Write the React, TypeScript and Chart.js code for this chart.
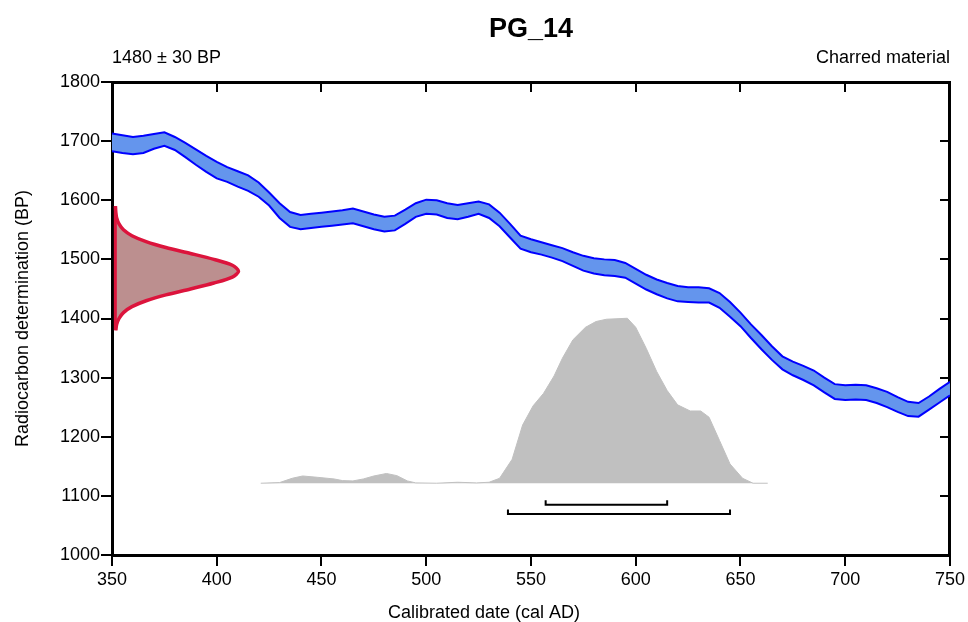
import React, { useEffect, useRef } from 'react';
import { Chart, registerables } from 'chart.js';

Chart.register(...registerables);

const FONT = '"Liberation Sans", Arial, Helvetica, sans-serif';

// ---- texts ----
const chartTitle = 'PG_14';
const labelLeft = '1480 ± 30 BP';
const labelRight = 'Charred material';
const xTitle = 'Calibrated date (cal AD)';
const yTitle = 'Radiocarbon determination (BP)';

// ---- tick labels ----
const xTicks = [350, 400, 450, 500, 550, 600, 650, 700, 750];
const yTicks = [1000, 1100, 1200, 1300, 1400, 1500, 1600, 1700, 1800];

// ---- calibration curve (upper / lower 1σ envelope, BP) ----
const curveYears = [
  350, 355, 360, 365, 370, 375, 380, 385, 390, 395,
  400, 405, 410, 415, 420, 425, 430, 435, 440, 445,
  450, 455, 460, 465, 470, 475, 480, 485, 490, 495,
  500, 505, 510, 515, 520, 525, 530, 535, 540, 545,
  550, 555, 560, 565, 570, 575, 580, 585, 590, 595,
  600, 605, 610, 615, 620, 625, 630, 635, 640, 645,
  650, 655, 660, 665, 670, 675, 680, 685, 690, 695,
  700, 705, 710, 715, 720, 725, 730, 735, 740, 745, 750,
];
const curveUpper = [
  1713, 1710, 1707, 1709, 1712, 1715, 1707, 1697, 1686, 1675,
  1665, 1656, 1649, 1642, 1630, 1613, 1595, 1580, 1575, 1577,
  1579, 1581, 1583, 1586, 1581, 1576, 1572, 1574, 1584, 1595,
  1601, 1600, 1595, 1592, 1595, 1598, 1593, 1579, 1560, 1540,
  1534, 1529, 1524, 1519, 1512, 1506, 1502, 1500, 1499, 1494,
  1484, 1474, 1466, 1460, 1455, 1453, 1453, 1451, 1443, 1428,
  1410, 1390, 1372, 1353, 1336, 1327, 1320, 1312, 1300, 1289,
  1287, 1288, 1287, 1282, 1276, 1267, 1259, 1257, 1268, 1281, 1293,
];
const curveLower = [
  1683, 1680, 1678, 1680, 1687, 1692, 1685, 1673, 1660, 1648,
  1637, 1631, 1623, 1616, 1606, 1591, 1570, 1555, 1551, 1553,
  1555, 1557, 1559, 1561, 1556, 1551, 1547, 1549, 1560, 1572,
  1577, 1576, 1570, 1568, 1572, 1577, 1570, 1556, 1537, 1518,
  1512, 1508, 1503, 1497, 1489, 1481, 1476, 1473, 1472, 1469,
  1459, 1449, 1441, 1434, 1429, 1428, 1427, 1427, 1418, 1403,
  1387, 1367, 1348, 1330, 1314, 1304, 1296, 1287, 1275, 1264,
  1262, 1263, 1262, 1257, 1250, 1242, 1235, 1234, 1246, 1258, 1270,
];

// ---- radiocarbon measurement distribution (relative density) ----
const measBP = [
  1380, 1390, 1400, 1410, 1420, 1430, 1440, 1450, 1460, 1470, 1480,
  1490, 1500, 1510, 1520, 1530, 1540, 1550, 1560, 1570, 1580, 1590,
];
const measDensity = [
  0.004, 0.011, 0.03, 0.066, 0.135, 0.25, 0.41, 0.61, 0.8, 0.95, 1.0,
  0.95, 0.8, 0.61, 0.41, 0.25, 0.135, 0.066, 0.03, 0.011, 0.004, 0.001,
];

// ---- calibrated probability distribution (relative) ----
const probYears = [
  421, 430, 436, 441, 448, 456, 460, 465, 470, 475, 481, 486, 491, 495,
  505, 515, 524, 530, 535, 541, 546, 551, 556, 561, 565, 570, 576, 581,
  586, 596, 600, 605, 610, 615, 620, 626, 631, 635, 640, 645, 651, 656, 663,
];
const probDensity = [
  0, 0.004, 0.03, 0.044, 0.036, 0.026, 0.016, 0.014, 0.026, 0.044, 0.059, 0.046, 0.014, 0.002,
  0, 0.006, 0.002, 0.006, 0.03, 0.145, 0.353, 0.469, 0.545, 0.65, 0.758, 0.869, 0.945, 0.98,
  0.994, 1.0, 0.945, 0.818, 0.677, 0.562, 0.475, 0.438, 0.438, 0.4, 0.259, 0.117, 0.03, 0, 0,
];

// ---- highest probability density ranges (cal AD) ----
const range68 = [557, 615];
const range95 = [539, 645];

// layout constants (positions on hidden probability axis)
const ROW_68 = -0.13;
const ROW_95 = -0.186;
const BRACKET_TICK = 0.027;

const bracket = (r: number[], row: number) => [
  { x: r[0], y: row + BRACKET_TICK },
  { x: r[0], y: row },
  { x: r[1], y: row },
  { x: r[1], y: row + BRACKET_TICK },
];

const textPlugin = {
  id: 'pageTexts',
  afterDraw(chart: any) {
    const { ctx, chartArea } = chart;
    ctx.save();
    ctx.fillStyle = '#000';
    ctx.textBaseline = 'alphabetic';
    ctx.font = `bold 27px ${FONT}`;
    ctx.textAlign = 'center';
    ctx.fillText(chartTitle, (chartArea.left + chartArea.right) / 2, 37);
    ctx.font = `18px ${FONT}`;
    ctx.textAlign = 'left';
    ctx.fillText(labelLeft, chartArea.left, 63);
    ctx.textAlign = 'right';
    ctx.fillText(labelRight, chartArea.right, 63);
    ctx.textAlign = 'center';
    ctx.fillText(xTitle, chart.width / 2, 618);
    ctx.restore();
  },
};

export default function App() {
  const ref = useRef<HTMLCanvasElement | null>(null);

  useEffect(() => {
    if (!ref.current) return;
    const plain = (v: any) => String(v);
    const tickOpts = { color: '#000', font: { family: FONT, size: 18 }, callback: plain };
    const chart = new Chart(ref.current, {
      type: 'line',
      data: {
        datasets: [
          {
            label: 'edge',
            xAxisID: 'xProb',
            yAxisID: 'y',
            data: [
              { x: 0, y: measBP[0] },
              { x: 0, y: measBP[measBP.length - 1] },
            ],
            borderColor: '#DC143C',
            borderWidth: 3,
            pointRadius: 0,
            fill: false,
          },
          {
            label: 'measurement',
            indexAxis: 'y',
            xAxisID: 'xProb',
            yAxisID: 'y',
            data: measBP.map((b, i) => ({ x: measDensity[i], y: b })),
            borderColor: '#DC143C',
            backgroundColor: '#BC8F8F',
            borderWidth: 3.5,
            pointRadius: 0,
            tension: 0.3,
            fill: 'origin',
          },
          {
            label: 'curve lower',
            xAxisID: 'x',
            yAxisID: 'y',
            data: curveYears.map((t, i) => ({ x: t, y: curveLower[i] })),
            borderColor: '#0000FF',
            borderWidth: 2,
            pointRadius: 0,
            fill: false,
          },
          {
            label: 'curve upper',
            xAxisID: 'x',
            yAxisID: 'y',
            data: curveYears.map((t, i) => ({ x: t, y: curveUpper[i] })),
            borderColor: '#0000FF',
            backgroundColor: '#6495ED',
            borderWidth: 2,
            pointRadius: 0,
            fill: '-1',
          },
          {
            label: 'calibrated',
            xAxisID: 'x',
            yAxisID: 'yProb',
            data: probYears.map((t, i) => ({ x: t, y: probDensity[i] })),
            borderColor: '#C0C0C0',
            backgroundColor: '#C0C0C0',
            borderWidth: 1,
            pointRadius: 0,
            fill: 'origin',
          },
          {
            label: '68.2%',
            xAxisID: 'x',
            yAxisID: 'yProb',
            data: bracket(range68, ROW_68),
            borderColor: '#000',
            borderWidth: 2,
            pointRadius: 0,
            fill: false,
          },
          {
            label: '95.4%',
            xAxisID: 'x',
            yAxisID: 'yProb',
            data: bracket(range95, ROW_95),
            borderColor: '#000',
            borderWidth: 2,
            pointRadius: 0,
            fill: false,
          },
        ] as any,
      },
      options: {
        responsive: false,
        animation: false,
        events: [],
        layout: { padding: 0 },
        plugins: {
          legend: { display: false },
          tooltip: { enabled: false },
          title: { display: false },
          filler: { drawTime: 'beforeDatasetsDraw' },
        } as any,
        scales: {
          x: {
            type: 'linear',
            position: 'bottom',
            min: 350,
            max: 750,
            afterBuildTicks: (s: any) => { s.ticks = xTicks.map((v) => ({ value: v })); },
            afterFit: (s: any) => { s.height = 67; },
            ticks: { ...tickOpts, padding: 3, maxRotation: 0, autoSkip: false },
            grid: { drawOnChartArea: false, drawTicks: true, tickLength: 11, color: '#000', lineWidth: 2 },
            border: { display: true, color: '#000', width: 3 },
          },
          xTop: {
            type: 'linear',
            position: 'top',
            min: 350,
            max: 750,
            afterBuildTicks: (s: any) => { s.ticks = xTicks.map((v) => ({ value: v })); },
            afterFit: (s: any) => { s.height = 82; },
            ticks: { display: false },
            grid: { drawOnChartArea: false, drawTicks: true, tickLength: -10, color: '#000', lineWidth: 2 },
            border: { display: true, color: '#000', width: 3 },
          },
          y: {
            type: 'linear',
            position: 'left',
            min: 1000,
            max: 1800,
            afterBuildTicks: (s: any) => { s.ticks = yTicks.map((v) => ({ value: v })); },
            afterFit: (s: any) => { s.width = 112; },
            ticks: { ...tickOpts, padding: 1, autoSkip: false },
            grid: { drawOnChartArea: false, drawTicks: true, tickLength: 11, color: '#000', lineWidth: 2 },
            border: { display: true, color: '#000', width: 3 },
            title: {
              display: true,
              text: yTitle,
              color: '#000',
              font: { family: FONT, size: 18 },
              padding: { top: 12, bottom: 0 },
            },
          },
          yRight: {
            type: 'linear',
            position: 'right',
            min: 1000,
            max: 1800,
            afterBuildTicks: (s: any) => { s.ticks = yTicks.map((v) => ({ value: v })); },
            afterFit: (s: any) => { s.width = 18; },
            ticks: { display: false },
            grid: { drawOnChartArea: false, drawTicks: true, tickLength: -10, color: '#000', lineWidth: 2 },
            border: { display: true, color: '#000', width: 3 },
          },
          xProb: { type: 'linear', position: 'bottom', display: false, min: -0.027, max: 6.775 },
          yProb: { type: 'linear', position: 'left', display: false, min: -0.435, max: 2.432 },
        } as any,
      },
      plugins: [textPlugin],
    });
    return () => chart.destroy();
  }, []);

  return (
    <div style={{ position: 'absolute', left: 0, top: 0, width: 968, height: 622, background: '#fff' }}>
      <canvas ref={ref} width={968} height={622} style={{ display: 'block' }} />
    </div>
  );
}
